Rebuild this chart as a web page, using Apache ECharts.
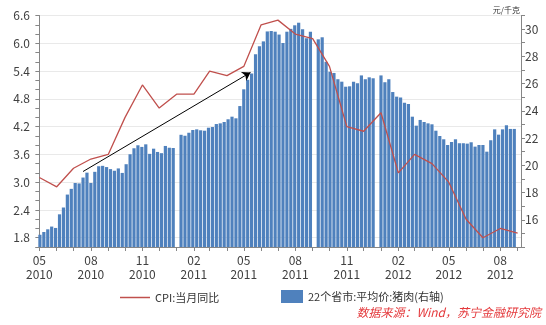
<!DOCTYPE html>
<html><head><meta charset="utf-8">
<script src="https://cdn.jsdelivr.net/npm/echarts@6/dist/echarts.min.js"></script>
<style>html,body{margin:0;padding:0;background:#fff}#c{width:546px;height:325px}</style>
</head><body><div id="c"></div>
<script>
// ---- data ----
const cpiName = 'CPI:当月同比';
const porkName = '22个省市:平均价:猪肉(右轴)';
const cpiFirstMonth = '2010-05-01';
const cpiValues = [3.1,2.9,3.3,3.5,3.6,4.4,5.1,4.6,
  4.9,4.9,5.4,5.3,5.5,6.4,6.5,6.2,6.1,5.5,4.2,4.1,
  4.5,3.2,3.6,3.4,3.0,2.2,1.8,2.0,1.9];
const porkFirstWeek = '2010-05-02';
const porkWeekly = [
  14.9,15.1,15.3,15.5,15.4,16.4,16.9,17.85,18.27,18.7,18.67,19.1,19.46,18.7,19.52,19.93,19.96,19.87,19.72,19.6,
  19.77,19.44,20.08,20.81,21.25,21.47,21.35,21.54,20.84,21.22,20.98,20.89,21.42,21.29,21.27,
  null,
  22.24,22.17,22.39,22.59,22.64,22.57,22.54,22.76,22.81,23.03,23.08,23.18,23.38,23.57,23.45,24.35,25.58,26.28,26.74,28.15,
  28.74,29.1,29.83,29.86,29.81,29.6,28.98,
  29.81,30.02,30.28,30.47,29.99,29.33,29.81,
  null,
  29.25,29.4,27.6,26.87,26.78,26.32,26.14,25.77,25.8,26.14,26.02,26.6,26.32,26.46,26.39,
  null,
  26.6,26.1,26.32,25.38,25.04,24.97,24.6,24.5,23.57,22.91,23.33,23.18,23.08,23.01,22.54,22.15,21.91,21.49,21.71,21.91,
  21.62,21.62,21.59,21.69,21.37,21.49,21.49,21.0,21.84,22.64,22.25,22.64,22.94,22.67,22.67
];
const xLabelMonths = ['2010-05','2010-08','2010-11','2011-02','2011-05','2011-08','2011-11','2012-02','2012-05','2012-08'];
const xRange = ['2010-04-25','2012-09-07'];
const leftTickLabels = [1.8,2.4,3.0,3.6,4.2,4.8,5.4,6.0,6.6];
const rightTickLabels = [16,18,20,22,24,26,28,30];
const arrowFrom = ['2010-07-18', 3.23];
const arrowTo = ['2011-05-13', 5.37];
const unitText = '元/千克';
const sourceText = '数据来源：Wind，苏宁金融研究院';

// ---- helpers: x axis counts days since the first CPI month ----
const DAY = 86400000;
const origin = Date.UTC(2010, 4, 1);
function dayOf(s){ const p = s.split('-').map(Number); return Math.round((Date.UTC(p[0], p[1]-1, p[2]||1) - origin)/DAY); }
function monthDay(s, n){ const p = s.split('-').map(Number); return Math.round((Date.UTC(p[0], p[1]-1+n, 1) - origin)/DAY); }
function dayToDate(d){ return new Date(origin + d*DAY); }
const cpiData = cpiValues.map((v,i)=>[monthDay(cpiFirstMonth,i), v]);
const porkData = porkWeekly.map((v,k)=>[dayOf(porkFirstWeek)+k*7, v==null?'-':v]);
const monthTicks = cpiValues.map((v,i)=>monthDay(cpiFirstMonth,i));
const labelTicks = xLabelMonths.map(m=>dayOf(m+'-01'));
const near = (a,b)=>Math.abs(a-b)<1e-6;

const FONT = '"Noto Sans CJK SC","Noto Sans",sans-serif';
const axisGray = '#868686';
const cpiColor = '#c0504d';
const chart = echarts.init(document.getElementById('c'), null, {renderer:'canvas'});
chart.setOption({
  animation:false,
  backgroundColor:'#fff',
  textStyle:{fontFamily:FONT},
  grid:{left:36, right:25, top:15.5, bottom:78, containLabel:false},
  xAxis:{
    type:'value', min:dayOf(xRange[0]), max:dayOf(xRange[1]),
    axisLine:{show:true, onZero:false, lineStyle:{color:axisGray}},
    axisTick:{show:true, length:4, customValues:monthTicks, lineStyle:{color:axisGray}},
    axisLabel:{customValues:labelTicks, color:'#404040', fontSize:12, lineHeight:14, margin:6,
      formatter:(v)=>{const d=dayToDate(v); const m=d.getUTCMonth()+1; return (m<10?'0':'')+m+'\n'+d.getUTCFullYear();}},
    splitLine:{show:false}
  },
  yAxis:[
    {type:'value', position:'left', min:1.6, max:6.6, interval:0.2,
      axisLine:{show:true, lineStyle:{color:axisGray}},
      axisTick:{show:true, length:4, lineStyle:{color:axisGray}},
      axisLabel:{color:'#404040', fontSize:12, margin:6,
        formatter:(v)=> leftTickLabels.some(t=>near(t,v)) ? v.toFixed(1) : ''},
      splitLine:{show:true, lineStyle:{color:['rgba(0,0,0,0)','#e9e9e9','rgba(0,0,0,0)'], width:1}}
    },
    {type:'value', position:'right', min:14, max:31, interval:1,
      axisLine:{show:true, lineStyle:{color:axisGray}},
      axisTick:{show:true, length:4, lineStyle:{color:axisGray}},
      axisLabel:{color:'#404040', fontSize:12, margin:4,
        formatter:(v)=> rightTickLabels.some(t=>near(t,v)) ? String(v) : ''},
      splitLine:{show:false}
    }
  ],
  legend:[
    {data:[{name:cpiName, icon:'rect', itemStyle:{color:cpiColor}}], left:120, top:292, padding:0,
      itemWidth:30, itemHeight:1.5, selectedMode:false,
      textStyle:{fontSize:11, color:'#333', fontFamily:FONT}},
    {data:[{name:porkName, icon:'rect'}], left:281, top:290, padding:0, itemWidth:22, itemHeight:13, selectedMode:false,
      textStyle:{fontSize:11, color:'#333', fontFamily:FONT}}
  ],
  graphic:[
    {type:'text', right:5, top:306, style:{text:sourceText, fill:'#e4393c', font:'italic 12px '+FONT}},
    {type:'text', right:26, top:6, style:{text:unitText, fill:'#333', font:'8px '+FONT}}
  ],
  series:[
    {type:'bar', name:porkName, yAxisIndex:1, barWidth:3.2, data:porkData,
      itemStyle:{color:'#4f81bd'}, z:1},
    {type:'line', name:cpiName, yAxisIndex:0, data:cpiData, symbol:'none', showSymbol:false,
      lineStyle:{color:cpiColor, width:1.3}, itemStyle:{color:cpiColor}, z:3,
      markLine:{silent:true, symbol:['none','arrow'], symbolSize:8, label:{show:false},
        lineStyle:{color:'#000', width:1, type:'solid'},
        data:[[{coord:[dayOf(arrowFrom[0]), arrowFrom[1]]},{coord:[dayOf(arrowTo[0]), arrowTo[1]]}]]}
    }
  ]
});
</script></body></html>
